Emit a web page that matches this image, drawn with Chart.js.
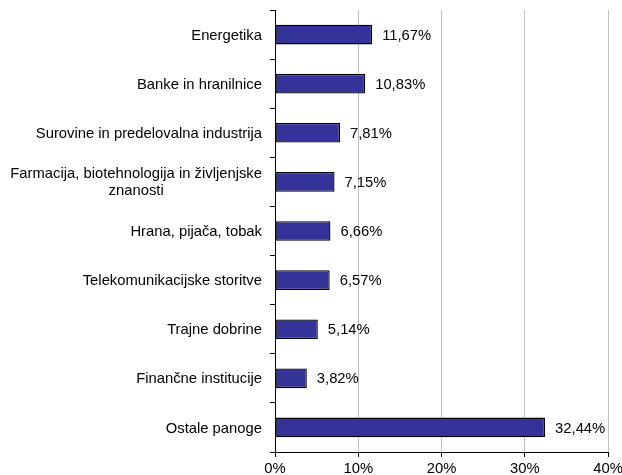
<!DOCTYPE html>
<head>
  <meta charset="utf-8">
  <script src="https://cdn.jsdelivr.net/npm/chart.js"></script>
  <style>
    html, body { margin: 0; padding: 0; background: #fff; }
    .chartBox { width: 622px; height: 475px; }
  </style>
</head>
<body>
  <div class="chartBox">
    <canvas id="sectorChart"></canvas>
  </div>

<script>
const sectors = [
  'Energetika',
  'Banke in hranilnice',
  'Surovine in predelovalna industrija',
  ['Farmacija, biotehnologija in življenjske', 'znanosti'],
  'Hrana, pijača, tobak',
  'Telekomunikacijske storitve',
  'Trajne dobrine',
  'Finančne institucije',
  'Ostale panoge'
];
const shares = [11.67, 10.83, 7.81, 7.15, 6.66, 6.57, 5.14, 3.82, 32.44];
const xTicks = [0, 10, 20, 30, 40];

const fontFamily = '"Liberation Sans", Arial, sans-serif';
const fontSize = 14.8;
const labelFont = fontSize + 'px ' + fontFamily;

// value labels next to bars + centred category labels (like the original)
const drawLabels = {
  id: 'drawLabels',
  afterDatasetsDraw(chart) {
    const {ctx, scales: {y}} = chart;
    const meta = chart.getDatasetMeta(0);
    ctx.save();
    ctx.font = labelFont;
    ctx.fillStyle = '#000';
    ctx.textBaseline = 'middle';
    ctx.textAlign = 'left';
    meta.data.forEach((bar, i) => {
      const txt = shares[i].toFixed(2).replace('.', ',') + '%';
      ctx.fillText(txt, bar.x + 10, bar.y + 1);
    });

    // category labels
    const rightEdge = y.right - 5 - 8;
    const lineH = 17;
    ctx.textAlign = 'center';
    sectors.forEach((lab, i) => {
      const lines = Array.isArray(lab) ? lab : [lab];
      const w = Math.max(...lines.map(l => ctx.measureText(l).width));
      const cx = rightEdge - w / 2;
      const cy = y.getPixelForTick(i);
      const top = cy - (lines.length - 1) * lineH / 2;
      lines.forEach((l, j) => ctx.fillText(l, cx, top + j * lineH + 1));
    });
    ctx.restore();
  }
};

new Chart(document.getElementById('sectorChart'), {
  type: 'bar',
  data: {
    labels: sectors,
    datasets: [{
      data: shares,
      backgroundColor: '#333399',
      borderColor: '#000',
      borderWidth: 1.3,
      borderSkipped: false,
      barPercentage: 0.4,
      categoryPercentage: 1.0
    }]
  },
  options: {
    responsive: true,
    maintainAspectRatio: false,
    animation: false,
    indexAxis: 'y',
    layout: { padding: { top: 10, left: 0, right: 0, bottom: 0 } },
    plugins: {
      legend: { display: false },
      title: { display: false },
      tooltip: { enabled: false }
    },
    scales: {
      x: {
        min: xTicks[0],
        max: xTicks[xTicks.length - 1],
        afterBuildTicks(scale) {
          scale.ticks = xTicks.map(v => ({ value: v }));
        },
        afterFit(scale) {
          scale.height = 23;
          scale.paddingLeft = 0;
          scale.paddingRight = 14;
        },
        grid: {
          color: '#c0c0c0',
          tickColor: '#000',
          tickLength: 5,
          lineWidth: 1
        },
        border: { color: '#000', width: 1 },
        ticks: {
          color: '#000',
          padding: 3,
          font: { family: fontFamily, size: fontSize },
          callback: v => v + '%'
        }
      },
      y: {
        afterFit(scale) {
          scale.width = 275;
          scale.paddingTop = 0;
          scale.paddingBottom = 0;
        },
        grid: {
          drawOnChartArea: false,
          color: '#000',
          tickLength: 5
        },
        border: { color: '#000', width: 1 },
        ticks: {
          color: 'rgba(0,0,0,0)',
          padding: 8,
          font: { family: fontFamily, size: fontSize, lineHeight: 1.2 }
        }
      }
    }
  },
  plugins: [drawLabels]
});
</script>
</body>
